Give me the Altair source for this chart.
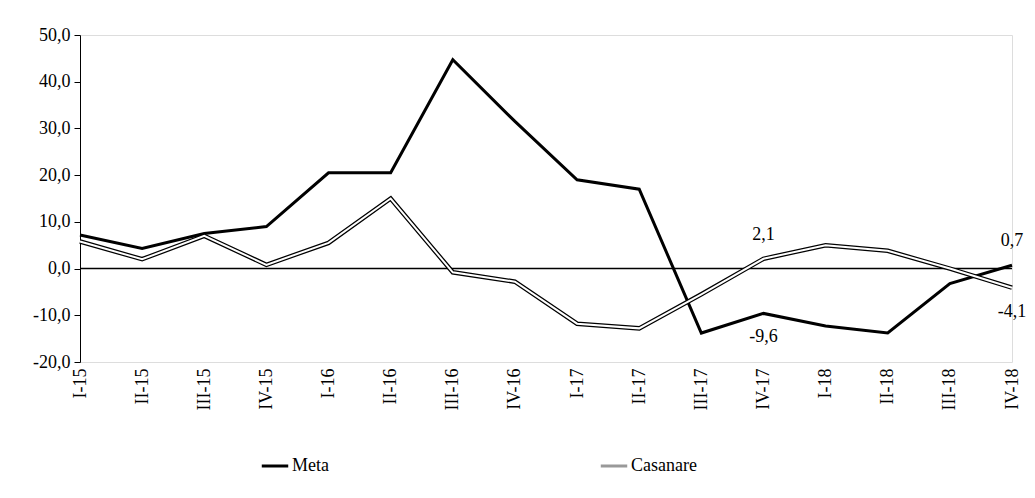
import altair as alt
import pandas as pd

quarters = ["I-15", "II-15", "III-15", "IV-15", "I-16", "II-16", "III-16", "IV-16",
            "I-17", "II-17", "III-17", "IV-17", "I-18", "II-18", "III-18", "IV-18"]
meta = [7.2, 4.3, 7.5, 9.0, 20.5, 20.5, 44.7, 31.5, 19.0, 17.0, -13.8, -9.6, -12.3, -13.8, -3.2, 0.7]
casanare = [5.8, 2.0, 7.0, 0.8, 5.5, 15.0, -0.8, -2.8, -11.8, -12.8, -5.5, 2.1, 5.0, 3.8, 0.0, -4.1]

df = pd.concat([
    pd.DataFrame({"q": quarters, "v": meta, "serie": "Meta"}),
    pd.DataFrame({"q": quarters, "v": casanare, "serie": "Casanare"}),
])
above = pd.DataFrame({"q": ["IV-17", "IV-18"], "v": [2.1, 0.7], "t": ["2,1", "0,7"]})
below = pd.DataFrame({"q": ["IV-17", "IV-18"], "v": [-9.6, -4.1], "t": ["-9,6", "-4,1"]})

font = "Liberation Serif"
x = alt.X("q:N", sort=quarters, scale=alt.Scale(type="point", padding=0),
          axis=alt.Axis(title=None, labelAngle=-90, labelFontSize=18, labelFont=font,
                        domain=False, ticks=False, labelPadding=6, labelColor="black"))
y = alt.Y("v:Q", scale=alt.Scale(domain=[-20, 50]),
          axis=alt.Axis(title=None, values=list(range(-20, 51, 10)),
                        labelExpr="replace(replace(format(datum.value, '.1f'), '.', ','), '\u2212', '-')",
                        grid=False, labelFontSize=18, labelFont=font, labelColor="black",
                        domainColor="black", tickColor="black", tickSize=6, labelPadding=4))

base = alt.Chart(df)
zero = alt.Chart(pd.DataFrame({"v": [0]})).mark_rule(color="black", strokeWidth=1.5).encode(y="v:Q")

col = alt.Color("serie:N", scale=alt.Scale(domain=["Meta", "Casanare"], range=["black", "#999999"]),
                legend=alt.Legend(title=None, orient="none", legendX=180, legendY=416,
                                  direction="horizontal",
                                  symbolType="stroke", symbolStrokeWidth=3, symbolSize=700,
                                  labelFontSize=18, labelFont=font, labelColor="black",
                                  columnPadding=265, labelOffset=2))

cas = base.transform_filter("datum.serie == 'Casanare'")
cas_outer = cas.mark_line(color="black", strokeWidth=4.5).encode(x=x, y=y)
cas_inner = cas.mark_line(color="white", strokeWidth=2).encode(x=x, y=y)
meta_line = base.mark_line(strokeWidth=3).encode(
    x=x, y=y, color=col,
    opacity=alt.condition("datum.serie == 'Meta'", alt.value(1), alt.value(0)))

txt_a = alt.Chart(above).mark_text(fontSize=18, font=font, color="black", dy=-24).encode(
    x=alt.X("q:N", sort=quarters), y="v:Q", text="t:N")
txt_b = alt.Chart(below).mark_text(fontSize=18, font=font, color="black", dy=24).encode(
    x=alt.X("q:N", sort=quarters), y="v:Q", text="t:N")

chart = alt.layer(zero, meta_line, cas_outer, cas_inner, txt_a, txt_b).properties(
    width=932, height=327, padding={"left": 24, "top": 18, "right": 0, "bottom": 5}
).configure_view(stroke=None).configure(background="white")

chart.save("out.html", embed_options={"renderer": "svg", "actions": False})
